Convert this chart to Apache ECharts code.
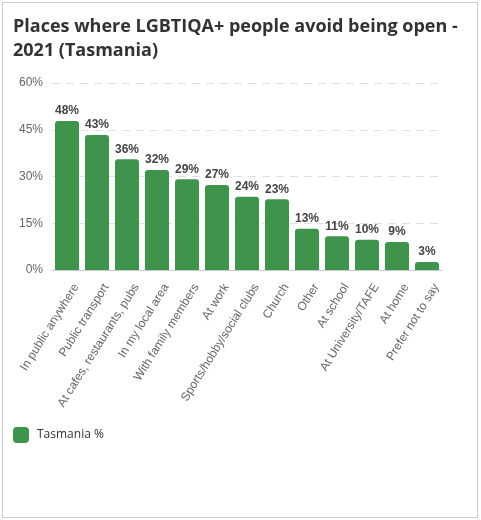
<!DOCTYPE html>
<html>
<head>
<meta charset="utf-8">
<script src="https://cdn.jsdelivr.net/npm/echarts@6/dist/echarts.min.js"></script>
<style>
  html, body { margin: 0; padding: 0; background: #fff; }
  #frame { position: absolute; left: 2px; top: 2px; width: 474px; height: 514px; border: 1px solid #cccccc; }
  #main { position: absolute; left: 0; top: 0; width: 481px; height: 520px; }
</style>
</head>
<body>
<div id="frame"></div>
<div id="main"></div>
<script>
  // 数据
  var categories = [
    "In public anywhere",
    "Public transport",
    "At cafes, restaurants, pubs",
    "In my local area",
    "With family members",
    "At work",
    "Sports/hobby/social clubs",
    "Church",
    "Other",
    "At school",
    "At University/TAFE",
    "At home",
    "Prefer not to say"
  ];
  var tasmania = [47.8, 43.3, 35.5, 32.1, 29.1, 27.3, 23.5, 22.7, 13.2, 10.8, 9.7, 9.0, 2.6];
  var yTicks = [0, 15, 30, 45, 60];

  var green = "#3d944a";

  var myChart = echarts.init(document.getElementById("main"));
  var option = {
    animation: false,
    title: {
      text: "Places where LGBTIQA+ people avoid being open -\n2021 (Tasmania)",
      left: 13,
      top: 15,
      padding: 0,
      textStyle: {
        fontFamily: "Open Sans",
        fontWeight: "bold",
        fontSize: 18,
        lineHeight: 24,
        color: "#333333"
      }
    },
    legend: {
      left: 13,
      top: 427,
      padding: 0,
      itemWidth: 16,
      itemHeight: 16,
      itemGap: 10,
      icon: "roundRect",
      textStyle: {
        fontFamily: "Open Sans",
        fontSize: 12,
        color: "#333333",
        padding: [0, 0, 0, 3]
      },
      data: ["Tasmania %"]
    },
    grid: {
      left: 52,
      right: 39,
      top: 83,
      height: 187
    },
    xAxis: {
      type: "category",
      data: categories,
      axisLine: { lineStyle: { color: "#cccccc", width: 1 } },
      axisTick: { show: false },
      axisLabel: {
        interval: 0,
        rotate: 58,
        margin: 9,
        verticalAlign: "top",
        padding: [5, 0, 0, 0],
        fontFamily: "Liberation Sans",
        fontSize: 12,
        color: "#666666"
      }
    },
    yAxis: {
      type: "value",
      min: yTicks[0],
      max: yTicks[yTicks.length - 1],
      interval: 15,
      axisLine: { show: false },
      axisTick: { show: false },
      splitLine: {
        lineStyle: { color: "#e0e0e6", type: [8, 6], width: 1 }
      },
      axisLabel: {
        margin: 9,
        fontFamily: "Liberation Sans",
        fontSize: 12,
        color: "#666666",
        formatter: "{value}%"
      }
    },
    series: [
      {
        name: "Tasmania %",
        type: "bar",
        data: tasmania,
        barCategoryGap: "20%",
        itemStyle: {
          color: green,
          borderRadius: [3, 3, 0, 0]
        },
        label: {
          show: true,
          position: "top",
          distance: 4,
          fontFamily: "Liberation Sans",
          fontWeight: "bold",
          fontSize: 12,
          color: "#444444",
          formatter: function(p) {
            return Math.round(p.value) + "%";
          }
        }
      }
    ]
  };
  myChart.setOption(option);
</script>
</body>
</html>
